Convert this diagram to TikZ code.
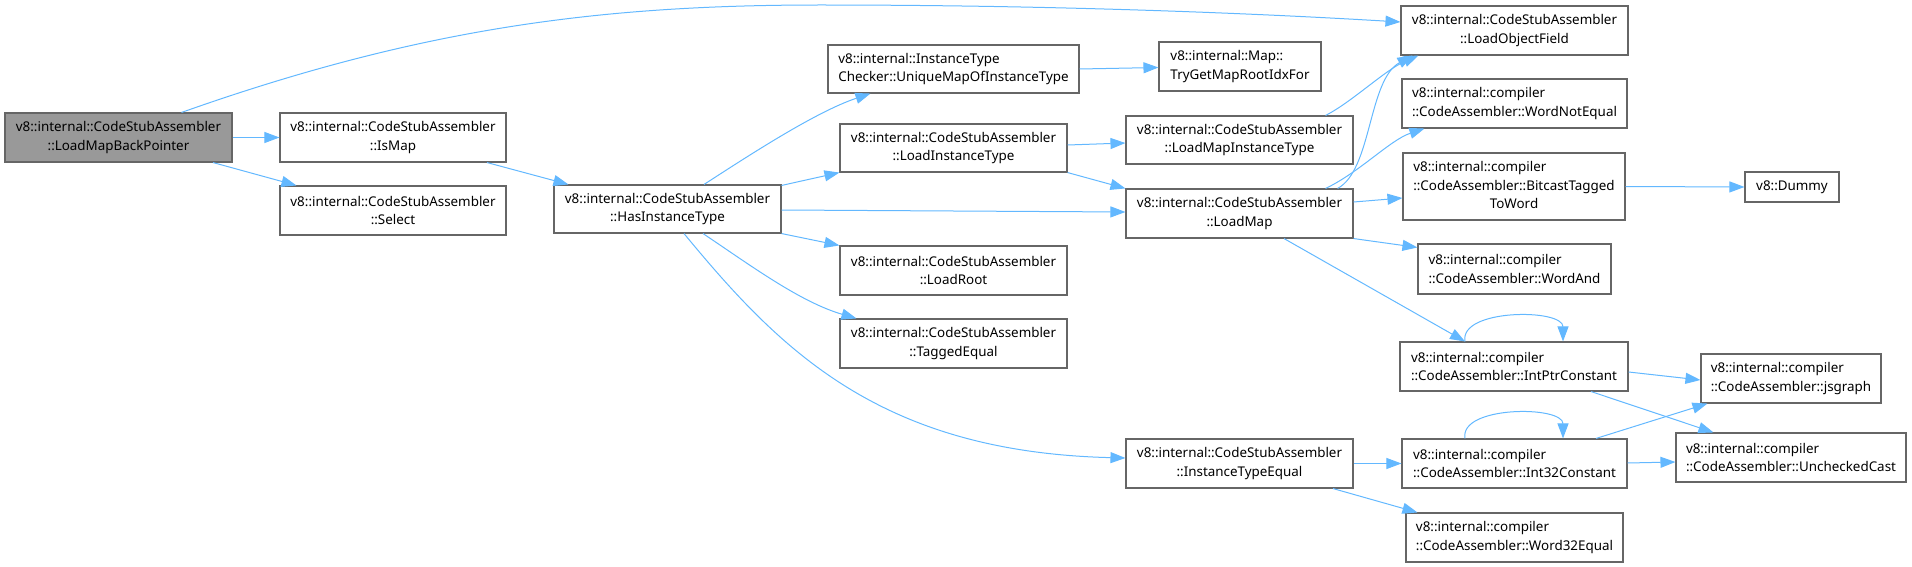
\documentclass[tikz,border=0pt]{standalone}
\usepackage{fontspec}
\setmainfont{Noto Sans}
\usetikzlibrary{arrows.meta,calc}
\definecolor{edgeblue}{HTML}{63B8FF}
\definecolor{boxline}{HTML}{666666}
\definecolor{boxfill}{HTML}{999999}
\begin{document}
\begin{tikzpicture}[x=1pt,y=-1pt,
  basebox/.style={draw=boxline, line width=1.1pt, fill=white, inner sep=0pt,
    font=\fontsize{13.4}{18.3}\selectfont},
  cbox/.style={basebox, align=center},
  lbox/.style={basebox, align=left},
  edge/.style={draw=edgeblue, line width=1pt, -{Triangle[length=15pt,width=11pt]}}]
\useasboundingbox (0,0) rectangle (1912,567);

% nodes
\node[cbox, fill=boxfill, minimum width=227pt, minimum height=49pt] (lmbp) at (118.5,137.5) {v8::internal::CodeStubAssembler\\::LoadMapBackPointer};
\node[cbox, minimum width=226pt, minimum height=49pt] (ismap) at (393,137.5) {v8::internal::CodeStubAssembler\\::IsMap};
\node[cbox, minimum width=226pt, minimum height=49pt] (select) at (393,210.5) {v8::internal::CodeStubAssembler\\::Select};
\node[cbox, minimum width=227pt, minimum height=48pt] (hit) at (667.5,209) {v8::internal::CodeStubAssembler\\::HasInstanceType};
\node[lbox, minimum width=251pt, minimum height=48pt] (umap) at (953.5,69) {v8::internal::InstanceType\\Checker::UniqueMapOfInstanceType};
\node[lbox, minimum width=162pt, minimum height=49pt] (tryget) at (1240,66.5) {v8::internal::Map::\\TryGetMapRootIdxFor};
\node[cbox, minimum width=227pt, minimum height=48pt] (lit) at (953.5,148) {v8::internal::CodeStubAssembler\\::LoadInstanceType};
\node[cbox, minimum width=227pt, minimum height=49pt] (lroot) at (953.5,270.5) {v8::internal::CodeStubAssembler\\::LoadRoot};
\node[cbox, minimum width=227pt, minimum height=49pt] (teq) at (953.5,343.5) {v8::internal::CodeStubAssembler\\::TaggedEqual};
\node[cbox, minimum width=227pt, minimum height=48pt] (lmit) at (1239.5,140) {v8::internal::CodeStubAssembler\\::LoadMapInstanceType};
\node[cbox, minimum width=227pt, minimum height=49pt] (lmap) at (1239.5,213.5) {v8::internal::CodeStubAssembler\\::LoadMap};
\node[cbox, minimum width=227pt, minimum height=49pt] (ite) at (1239.5,463.5) {v8::internal::CodeStubAssembler\\::InstanceTypeEqual};
\node[cbox, minimum width=227pt, minimum height=49pt] (lof) at (1514.5,30.5) {v8::internal::CodeStubAssembler\\::LoadObjectField};
\node[lbox, minimum width=225pt, minimum height=49pt] (wne) at (1514.5,103.5) {v8::internal::compiler\\::CodeAssembler::WordNotEqual};
\node[basebox, minimum width=222pt, minimum height=67pt] (btw) at (1514,186.5) {\begin{tabular}{@{}l@{}}v8::internal::compiler\\::CodeAssembler::BitcastTagged\\\multicolumn{1}{@{}c@{}}{ToWord}\end{tabular}};
\node[lbox, minimum width=193pt, minimum height=50pt] (wand) at (1514.5,269) {v8::internal::compiler\\::CodeAssembler::WordAnd};
\node[lbox, minimum width=228pt, minimum height=49pt] (ipc) at (1514,366.5) {v8::internal::compiler\\::CodeAssembler::IntPtrConstant};
\node[lbox, minimum width=225pt, minimum height=49pt] (i32c) at (1514.5,463.5) {v8::internal::compiler\\::CodeAssembler::Int32Constant};
\node[lbox, minimum width=217pt, minimum height=49pt] (w32e) at (1514.5,537.5) {v8::internal::compiler\\::CodeAssembler::Word32Equal};
\node[cbox, minimum width=94pt, minimum height=30pt] (dummy) at (1792,187) {v8::Dummy};
\node[lbox, minimum width=180pt, minimum height=49pt] (jsg) at (1791,378.5) {v8::internal::compiler\\::CodeAssembler::jsgraph};
\node[lbox, minimum width=230pt, minimum height=49pt] (ucast) at (1791,457.5) {v8::internal::compiler\\::CodeAssembler::UncheckedCast};

% edges
\draw[edge] ([xshift=63pt]lmbp.north) .. controls (420,28) and (600,5) .. (820,5) .. controls (1050,5) and (1250,13) .. ([yshift=8.5pt]lof.west);
\draw[edge] (lmbp.east) -- (ismap.west);
\draw[edge] ([xshift=94.5pt]lmbp.south) -- ([xshift=17pt]select.north west);
\draw[edge] ([xshift=94pt]ismap.south) -- ([xshift=15pt]hit.north west);
\draw[edge] ([xshift=36.5pt]hit.north) .. controls (745,158) and (815,112) .. ([xshift=43pt]umap.south west);
\draw[edge] ([yshift=-1pt]hit.north east) -- (lit.south west);
\draw[edge] ([yshift=-1pt]hit.east) -- ([yshift=1.5pt]lmap.west);
\draw[edge] (hit.south east) -- (lroot.north west);
\draw[edge] ([xshift=35.5pt]hit.south) .. controls (750,265) and (800,302) .. ([xshift=17pt]teq.north west);
\draw[edge] ([xshift=16.5pt]hit.south) .. controls (780,350) and (880,452) .. ([yshift=5.5pt]ite.west);
\draw[edge] (umap.east) -- ([yshift=-1pt]tryget.west);
\draw[edge] ([yshift=3pt]lit.east) -- ([yshift=-3pt]lmit.west);
\draw[edge] (lit.south east) -- (lmap.north west);
\draw[edge] ([xshift=-28pt]lmit.north east) .. controls (1352,102) and (1385,70) .. ([xshift=18pt]lof.south west);
\draw[edge] ([xshift=-16pt]lmap.north east) .. controls (1372,170) and (1368,80) .. ([xshift=12pt]lof.south west);
\draw[edge] ([xshift=-28pt]lmap.north east) .. controls (1360,172) and (1390,140) .. ([xshift=23pt]wne.south west);
\draw[edge] ([yshift=11.5pt]lmap.east) -- ([yshift=-11.5pt]btw.west);
\draw[edge] (lmap.south east) -- ([yshift=-4pt]wand.north west);
\draw[edge] ([xshift=44.5pt]lmap.south) -- ([xshift=-49pt]ipc.north);
\draw[edge] (btw.east) -- (dummy.west);
\draw[edge] ([xshift=-49pt]ipc.north) .. controls +(-6,-33) and +(0,-33) .. ([xshift=49pt]ipc.north);
\draw[edge] ([yshift=-5.5pt]ipc.east) -- ([yshift=-1.5pt]jsg.west);
\draw[edge] ([xshift=77pt]ipc.south) -- ([xshift=38pt]ucast.north west);
\draw[edge] (ite.east) -- (i32c.west);
\draw[edge] ([xshift=93.5pt]ite.south) -- ([xshift=12pt]w32e.north west);
\draw[edge] ([xshift=-49.5pt]i32c.north) .. controls +(-6,-33) and +(0,-33) .. ([xshift=48.5pt]i32c.north);
\draw[edge] ([xshift=81.5pt]i32c.north) -- ([xshift=7pt]jsg.south west);
\draw[edge] ([yshift=0.5pt]i32c.east) -- ([yshift=-4.5pt]ucast.west);
\end{tikzpicture}
\end{document}
